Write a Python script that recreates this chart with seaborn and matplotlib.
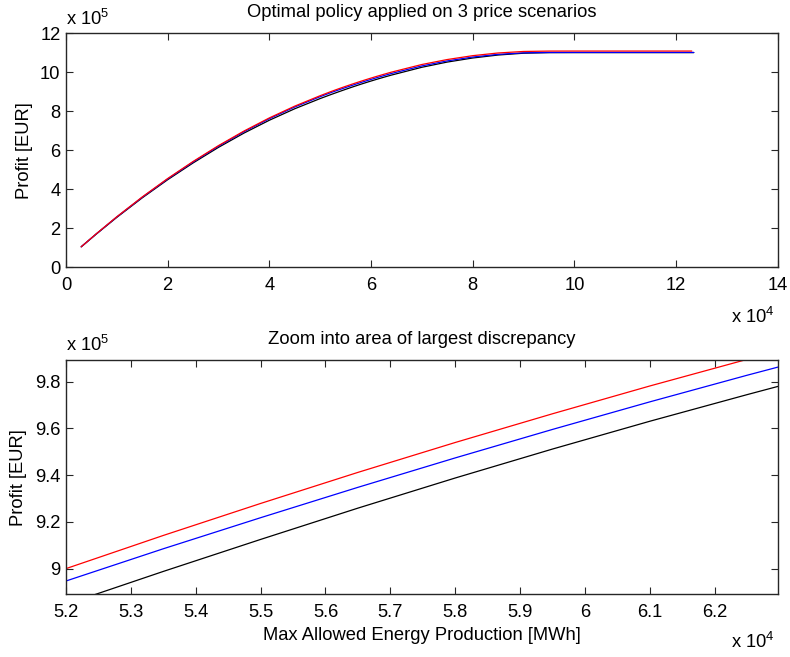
import numpy as np
import pandas as pd
import matplotlib
matplotlib.use("Agg")
import matplotlib.pyplot as plt
from matplotlib.ticker import FuncFormatter, MultipleLocator
import seaborn as sns

# Max allowed energy production [MWh] (units of 1e4) and profit [EUR] (units of 1e5)
x_common = [0.3, 0.6, 1.0, 1.5, 2.0, 2.5, 3.0, 3.5, 4.0, 4.5, 5.0, 5.2, 5.35,
            5.5, 5.65, 5.8, 5.95, 6.1, 6.25, 6.4, 7.0, 7.5, 8.0, 8.5, 9.0,
            9.5, 10.0, 11.0]
x_end_red = 12.31
x_end_other = 12.35

profit_black = [1.05, 1.71, 2.56, 3.56, 4.49, 5.35, 6.15, 6.88, 7.54, 8.13, 8.653,
                8.847, 8.988, 9.125, 9.259, 9.388, 9.512, 9.631, 9.745, 9.856,
                10.257, 10.525, 10.733, 10.886, 10.979, 11.008, 11.01, 11.01, 11.01]
profit_blue = [1.05, 1.72, 2.58, 3.59, 4.53, 5.40, 6.21, 6.95, 7.62, 8.22, 8.75,
               8.947, 9.085, 9.218, 9.348, 9.474, 9.596, 9.714, 9.828, 9.938,
               10.327, 10.585, 10.783, 10.921, 10.999, 11.018, 11.02, 11.02, 11.02]
profit_red = [1.05, 1.725, 2.59, 3.605, 4.55, 5.425, 6.24, 6.985, 7.66, 8.265, 8.80,
              9.000, 9.142, 9.279, 9.412, 9.540, 9.663, 9.782, 9.896, 10.007,
              10.40, 10.655, 10.853, 10.991, 11.069, 11.088, 11.09, 11.09, 11.09]

X_SCALE = 1e4
Y_SCALE = 1e5

frames = []
for name, ys, xe in [("black", profit_black, x_end_other),
                     ("blue", profit_blue, x_end_other),
                     ("red", profit_red, x_end_red)]:
    xs = x_common + [xe]
    frames.append(pd.DataFrame({"energy": np.array(xs) * X_SCALE,
                                "profit": np.array(ys) * Y_SCALE,
                                "scenario": name}))
df = pd.concat(frames, ignore_index=True)

sns.set_theme(style="white")
plt.rcParams["font.family"] = ["Liberation Sans", "DejaVu Sans"]
plt.rcParams["mathtext.default"] = "regular"
plt.rcParams["text.color"] = "black"
plt.rcParams["axes.labelcolor"] = "black"

FS = 13.2
fig = plt.figure(figsize=(7.9, 6.57), dpi=100)
ax1 = fig.add_axes([0.0835, 0.5932, 0.9009, 0.3561])
ax2 = fig.add_axes([0.0835, 0.0954, 0.9009, 0.3566])

palette = {"black": "#000000", "blue": "#0000ff", "red": "#ff0000"}

for ax in (ax1, ax2):
    for name in ["black", "blue", "red"]:
        sub = df[df["scenario"] == name]
        sns.lineplot(data=sub, x="energy", y="profit", color=palette[name],
                     linewidth=0.9, ax=ax, sort=False, estimator=None)

def styled(ax):
    ax.xaxis.set_major_formatter(FuncFormatter(lambda v, p: f"{round(v / X_SCALE, 6):g}"))
    ax.yaxis.set_major_formatter(FuncFormatter(lambda v, p: f"{round(v / Y_SCALE, 6):g}"))
    ax.tick_params(direction="in", length=5, width=0.8, colors="#262626",
                   labelcolor="black", labelsize=FS, top=True, right=True,
                   bottom=True, left=True)
    ax.tick_params(axis="x", pad=7)
    ax.tick_params(axis="y", pad=4)
    for s in ax.spines.values():
        s.set_visible(True)
        s.set_color("#262626")
        s.set_linewidth(1.0)
    ax.set_facecolor("white")
    ax.grid(False)

def annotate(ax, title, ylab_x, mult_y, exp_y):
    ax.text(0.5, 1.087, title, transform=ax.transAxes, fontsize=FS,
            ha="center", va="center")
    ax.text(0.0, mult_y, r"x 10$^{5}$", transform=ax.transAxes, fontsize=FS,
            ha="left", va="center")
    ax.text(0.996, exp_y, r"x 10$^{4}$", transform=ax.transAxes, fontsize=FS,
            ha="right", va="center")
    ax.set_ylabel("Profit [EUR]", fontsize=FS, va="center")
    ax.yaxis.set_label_coords(ylab_x, 0.5)

# Full range view
ax1.set_xlim(0, 14e4)
ax1.set_ylim(0, 12e5)
ax1.xaxis.set_major_locator(MultipleLocator(2e4))
ax1.yaxis.set_major_locator(MultipleLocator(2e5))
styled(ax1)
ax1.set_xlabel("")
annotate(ax1, "Optimal policy applied on 3 price scenarios", -0.058, 1.062, -0.211)

# Zoomed view
ax2.set_xlim(5.2e4, 6.297e4)
ax2.set_ylim(8.89e5, 9.893e5)
ax2.xaxis.set_major_locator(MultipleLocator(0.1e4))
ax2.yaxis.set_major_locator(MultipleLocator(0.2e5))
styled(ax2)
ax2.set_xlabel("Max Allowed Energy Production [MWh]", fontsize=FS, va="center")
ax2.xaxis.set_label_coords(0.5, -0.175)
annotate(ax2, "Zoom into area of largest discrepancy", -0.066, 1.064, -0.202)

fig.savefig("out.png", dpi=100, facecolor="white")
